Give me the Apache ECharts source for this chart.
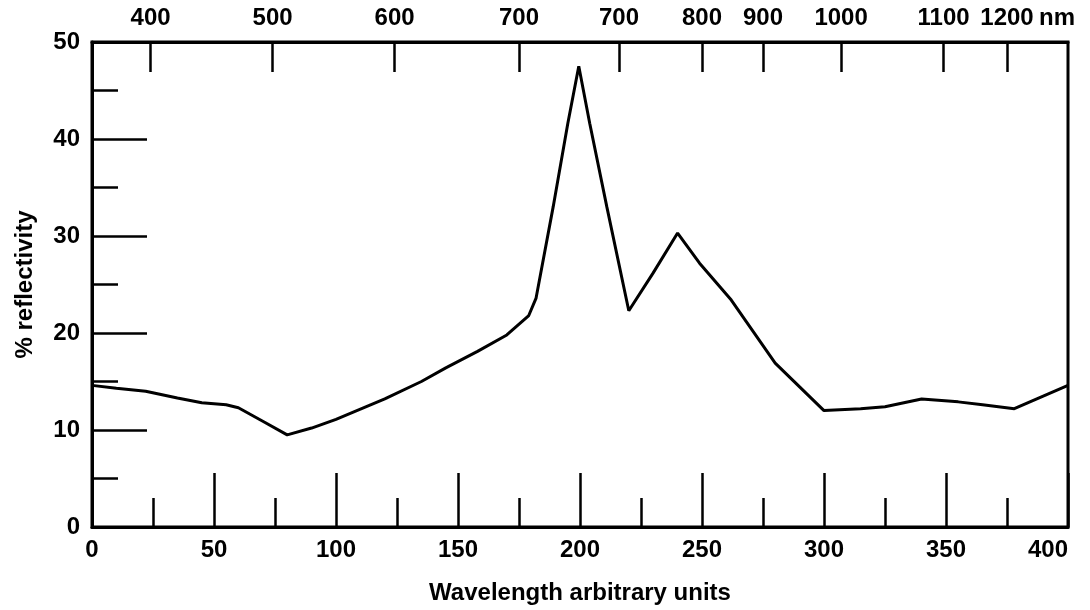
<!DOCTYPE html>
<html><head><meta charset="utf-8">
<script src="https://cdn.jsdelivr.net/npm/echarts@6/dist/echarts.min.js"></script>
<style>html,body{margin:0;padding:0;background:#fff}#c{width:1090px;height:610px}</style>
</head><body><div id="c"></div>
<script>
// Wavelength (arbitrary units) and % reflectivity
const waveUnits    = [0, 10, 22, 35, 45, 55, 60, 70, 80, 90, 100, 120, 135, 145, 158, 170, 179, 182, 189, 195, 199.5, 204, 211, 220, 230, 240, 249, 262, 280, 300, 315, 325, 340, 355, 365, 378, 400];
const reflectivity = [14.6, 14.3, 14.0, 13.3, 12.8, 12.6, 12.3, 10.9, 9.5, 10.2, 11.1, 13.2, 15.0, 16.4, 18.1, 19.8, 21.8, 23.6, 33.0, 41.6, 47.5, 41.6, 33.0, 22.3, 26.2, 30.3, 27.2, 23.4, 16.9, 12.0, 12.2, 12.4, 13.2, 12.9, 12.6, 12.2, 14.6];

// Top (nm) scale: positions in arbitrary units and their labels
const nmTickPositions = [24, 74, 124, 175, 216, 250, 275, 307, 349, 375];
const nmTickLabels    = ['400', '500', '600', '700', '700', '800', '900', '1000', '1100', '1200'];
const nmUnit = 'nm';

const X_MIN = 0, X_MAX = 400, Y_MIN = 0, Y_MAX = 50;

const topCategories = [];
for (let i = X_MIN; i <= X_MAX; i++) topCategories.push(String(i));
const isNmTick = (idx) => nmTickPositions.indexOf(idx) >= 0;

const FONT = "'Liberation Sans', Arial, sans-serif";
const INK = '#000';
const LABEL = {fontFamily: FONT, fontWeight: 'bold', fontSize: 24, color: INK};

const chart = echarts.init(document.getElementById('c'), null, {renderer: 'canvas'});
chart.setOption({
  animation: false,
  backgroundColor: '#fff',
  grid: {left: 92, right: 22, top: 42, bottom: 83, show: true, borderColor: INK, borderWidth: 3, backgroundColor: 'transparent'},
  xAxis: [{
    type: 'value', position: 'bottom', min: X_MIN, max: X_MAX, interval: 50,
    name: 'Wavelength arbitrary units', nameLocation: 'middle', nameGap: 54,
    nameTextStyle: {fontFamily: FONT, fontWeight: 'bold', fontSize: 24, color: INK},
    axisLine: {show: true, lineStyle: {color: INK, width: 3}},
    axisTick: {show: true, inside: true, length: 54, lineStyle: {color: INK, width: 2.5}},
    minorTick: {show: true, splitNumber: 2, length: 29, lineStyle: {color: INK, width: 2.5}},
    axisLabel: Object.assign({margin: 11, alignMaxLabel: 'right'}, LABEL),
    splitLine: {show: false}
  }, {
    type: 'category', position: 'top', data: topCategories, boundaryGap: false,
    name: nmUnit, nameLocation: 'end', nameGap: -29, nameMoveOverlap: false,
    nameTextStyle: {fontFamily: FONT, fontWeight: 'bold', fontSize: 24, color: INK, align: 'left', verticalAlign: 'bottom', padding: [0, 0, 12, 0]},
    axisLine: {show: true, lineStyle: {color: INK, width: 3}},
    axisTick: {show: true, inside: true, length: 30, interval: (i) => isNmTick(i), lineStyle: {color: INK, width: 2.5}},
    axisLabel: Object.assign({show: true, margin: 12, interval: (i) => isNmTick(i),
      formatter: (v) => nmTickLabels[nmTickPositions.indexOf(Number(v))] || ''}, LABEL),
    splitLine: {show: false}
  }],
  yAxis: [{
    type: 'value', min: Y_MIN, max: Y_MAX, interval: 10,
    name: '% reflectivity', nameLocation: 'middle', nameGap: 55, nameRotate: 90,
    nameTextStyle: {fontFamily: FONT, fontWeight: 'bold', fontSize: 24, color: INK},
    axisLine: {show: true, lineStyle: {color: INK, width: 3}},
    axisTick: {show: true, inside: true, length: 55, lineStyle: {color: INK, width: 2.5}},
    minorTick: {show: true, splitNumber: 2, length: 26, lineStyle: {color: INK, width: 2.5}},
    axisLabel: Object.assign({margin: 12}, LABEL),
    splitLine: {show: false}
  }],
  series: [{
    type: 'line', xAxisIndex: 0, yAxisIndex: 0,
    data: waveUnits.map((x, i) => [x, reflectivity[i]]),
    showSymbol: false, symbol: 'none', smooth: false,
    lineStyle: {color: INK, width: 3},
    z: 3
  }]
});
</script>
</body></html>
